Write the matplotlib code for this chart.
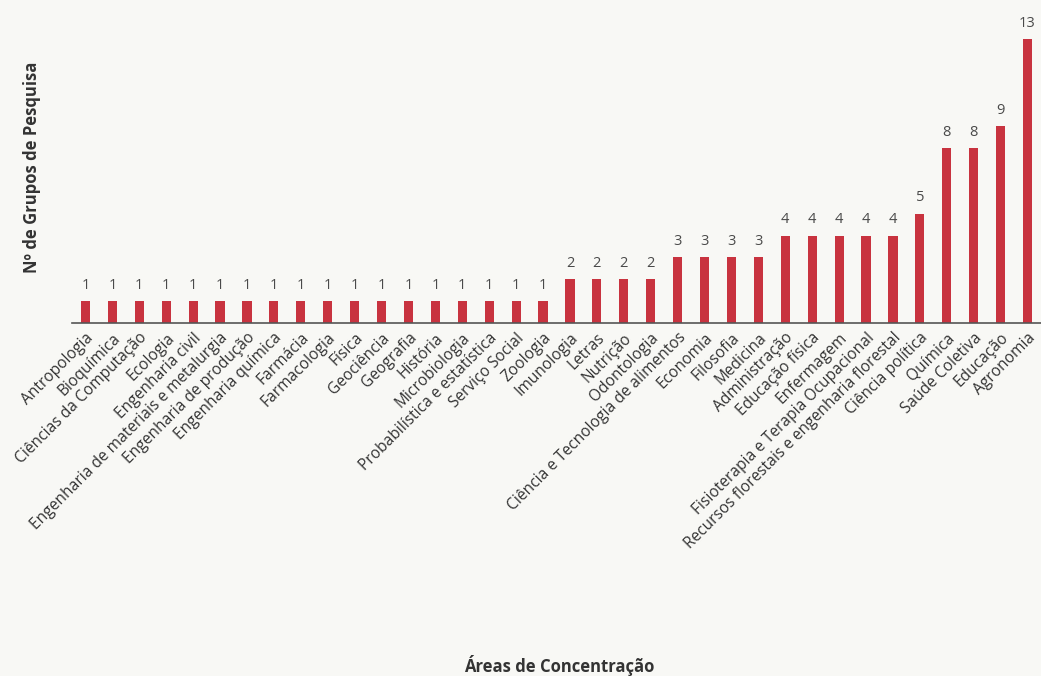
import numpy as np
import matplotlib
matplotlib.use("Agg")
from matplotlib import pyplot as plt

areas = [
    "Antropologia", "Bioquímica", "Ciências da Computação", "Ecologia",
    "Engenharia civil", "Engenharia de materiais e metalurgia",
    "Engenharia de produção", "Engenharia química", "Farmácia",
    "Farmacologia", "Física", "Geociência", "Geografia", "História",
    "Microbiologia", "Probabilística e estatística", "Serviço Social",
    "Zoologia", "Imunologia", "Letras", "Nutrição", "Odontologia",
    "Ciência e Tecnologia de alimentos", "Economia", "Filosofia", "Medicina",
    "Administração", "Educação física", "Enfermagem",
    "Fisioterapia e Terapia Ocupacional",
    "Recursos florestais e engenharia florestal", "Ciência política",
    "Química", "Saúde Coletiva", "Educação", "Agronomia",
]
grupos = [1] * 18 + [2, 2, 2, 2, 3, 3, 3, 3, 4, 4, 4, 4, 4, 5, 8, 8, 9, 13]

bg = "#f8f8f5"
bar_color = "#c8333f"
text_color = "#333333"
plt.rcParams['font.family'] = ['Open Sans', 'DejaVu Sans']

fig = plt.figure(figsize=(10.41, 6.76), dpi=100, facecolor=bg)
ax = fig.add_axes([72 / 1041, 1 - 323 / 676, 1 - 72 / 1041, 323 / 676])
ax.set_facecolor(bg)

x = np.arange(len(areas))
bars = ax.bar(x, grupos, width=0.34, color=bar_color)
for xi, v in zip(x, grupos):
    ax.annotate(str(v), (xi, v), xytext=(0, 6), textcoords="offset points",
                ha="center", va="bottom", fontsize=10.5, color="#4a4a4a")

ax.set_xlim(-0.5, len(areas) - 0.5)
ax.set_ylim(0, 14.78)
ax.set_yticks([])
ax.set_xticks(x)
ax.set_xticklabels(areas, rotation=45, ha="right", rotation_mode="anchor",
                   fontsize=11.2, color=text_color)
ax.tick_params(axis="x", length=0, pad=5)
for s in ["top", "right", "left"]:
    ax.spines[s].set_visible(False)
ax.spines["bottom"].set_color("#555555")
ax.spines["bottom"].set_linewidth(1.2)

fig.text(32 / 1041, 1 - 167 / 676, "Nº de Grupos de Pesquisa", rotation=90,
         ha="center", va="center", fontsize=12, fontweight="bold", color=text_color)
fig.text(559 / 1041, 1 - 666 / 676, "Áreas de Concentração",
         ha="center", va="center", fontsize=12, fontweight="bold", color=text_color)

fig.savefig("out.png", dpi=100, facecolor=bg)
